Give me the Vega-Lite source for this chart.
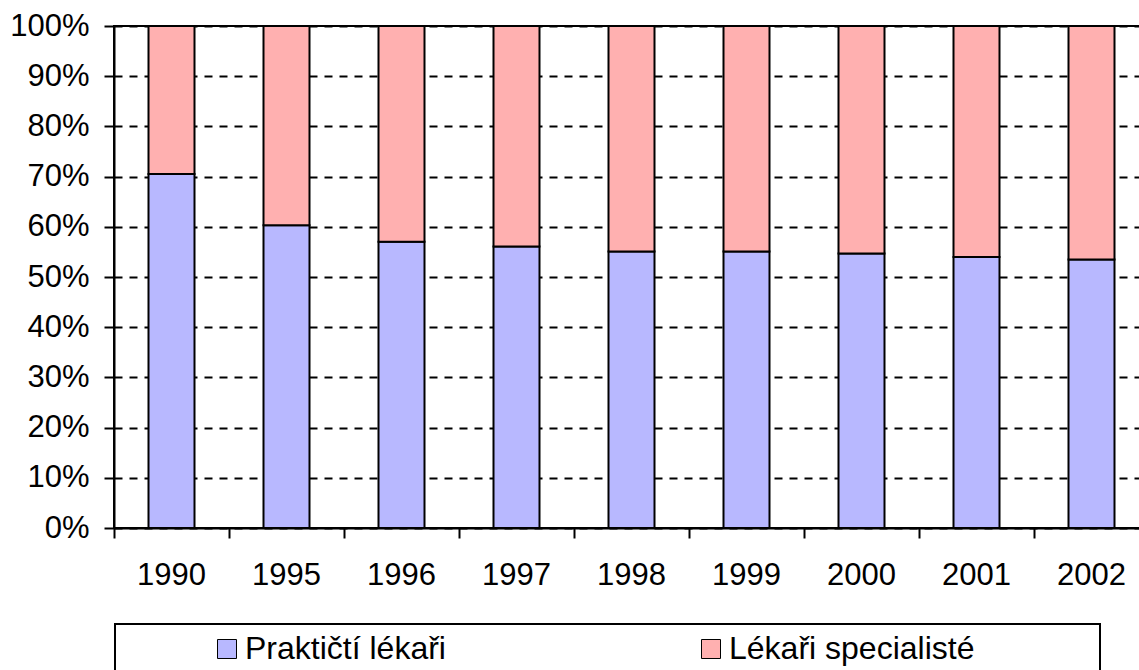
{
  "$schema": "https://vega.github.io/schema/vega-lite/v6.json",
  "autosize": {"type": "none"},
  "width": 1035,
  "height": 502,
  "padding": {"left": 114, "top": 26, "right": 0, "bottom": 142},
  "background": "white",
  "config": {
    "font": "Liberation Sans",
    "view": {"stroke": "black", "strokeWidth": 2}
  },
  "data": {
    "values": [
      {"rok": "1990", "skupina": "Praktičtí lékaři", "podil": 70.5},
      {"rok": "1990", "skupina": "Lékaři specialisté", "podil": 29.5},
      {"rok": "1995", "skupina": "Praktičtí lékaři", "podil": 60.3},
      {"rok": "1995", "skupina": "Lékaři specialisté", "podil": 39.7},
      {"rok": "1996", "skupina": "Praktičtí lékaři", "podil": 57.0},
      {"rok": "1996", "skupina": "Lékaři specialisté", "podil": 43.0},
      {"rok": "1997", "skupina": "Praktičtí lékaři", "podil": 56.1},
      {"rok": "1997", "skupina": "Lékaři specialisté", "podil": 43.9},
      {"rok": "1998", "skupina": "Praktičtí lékaři", "podil": 55.1},
      {"rok": "1998", "skupina": "Lékaři specialisté", "podil": 44.9},
      {"rok": "1999", "skupina": "Praktičtí lékaři", "podil": 55.1},
      {"rok": "1999", "skupina": "Lékaři specialisté", "podil": 44.9},
      {"rok": "2000", "skupina": "Praktičtí lékaři", "podil": 54.7},
      {"rok": "2000", "skupina": "Lékaři specialisté", "podil": 45.3},
      {"rok": "2001", "skupina": "Praktičtí lékaři", "podil": 54.0},
      {"rok": "2001", "skupina": "Lékaři specialisté", "podil": 46.0},
      {"rok": "2002", "skupina": "Praktičtí lékaři", "podil": 53.5},
      {"rok": "2002", "skupina": "Lékaři specialisté", "podil": 46.5}
    ]
  },
  "mark": {"type": "bar", "stroke": "black", "strokeWidth": 2, "width": {"band": 0.4}},
  "encoding": {
    "x": {
      "field": "rok",
      "type": "nominal",
      "scale": {"paddingInner": 0, "paddingOuter": 0},
      "axis": {
        "title": null,
        "bandPosition": 0,
        "labelAngle": 0,
        "labelFontSize": 31,
        "labelColor": "black",
        "labelPadding": 22,
        "tickSize": 10,
        "tickWidth": 2,
        "tickColor": "black",
        "domainColor": "black",
        "domainWidth": 2,
        "grid": false
      }
    },
    "y": {
      "field": "podil",
      "type": "quantitative",
      "stack": "normalize",
      "scale": {"domain": [0, 1], "nice": false},
      "axis": {
        "title": null,
        "format": ".0%",
        "values": [0, 0.1, 0.2, 0.3, 0.4, 0.5, 0.6, 0.7, 0.8, 0.9, 1],
        "labelFontSize": 31,
        "labelColor": "black",
        "labelPadding": 15,
        "labelFlush": false,
        "labelOverlap": false,
        "tickSize": 10,
        "tickWidth": 2,
        "tickColor": "black",
        "domainColor": "black",
        "domainWidth": 2,
        "grid": true,
        "gridColor": "black",
        "gridWidth": 2,
        "gridDash": [8, 7],
        "gridOpacity": 1
      }
    },
    "color": {
      "field": "skupina",
      "type": "nominal",
      "scale": {
        "domain": ["Praktičtí lékaři", "Lékaři specialisté"],
        "range": ["#B8B8FF", "#FFB0B0"]
      },
      "legend": {
        "orient": "none",
        "legendX": 1,
        "legendY": 598,
        "direction": "horizontal",
        "title": "\u00a0",
        "titleOrient": "left",
        "titleFontSize": 1,
        "titlePadding": 87,
        "padding": 9,
        "strokeColor": "black",
        "fillColor": "white",
        "columnPadding": 249,
        "symbolType": "square",
        "symbolSize": 361,
        "symbolStrokeColor": "black",
        "symbolStrokeWidth": 1,
        "symbolOpacity": 1,
        "labelFontSize": 32,
        "labelColor": "black",
        "labelOffset": 2,
        "labelLimit": 800,
        "labelExpr": "datum.label == 'Lékaři specialisté' ? datum.label + '\u00a0\u00a0\u00a0\u00a0\u00a0\u00a0\u00a0\u00a0\u00a0\u00a0\u00a0\u00a0\u00a0\u200b' : datum.label",
        "encode": {"legend": {"update": {"strokeWidth": {"value": 2}}}}
      }
    },
    "order": {"field": "skupina", "sort": "descending"}
  }
}
